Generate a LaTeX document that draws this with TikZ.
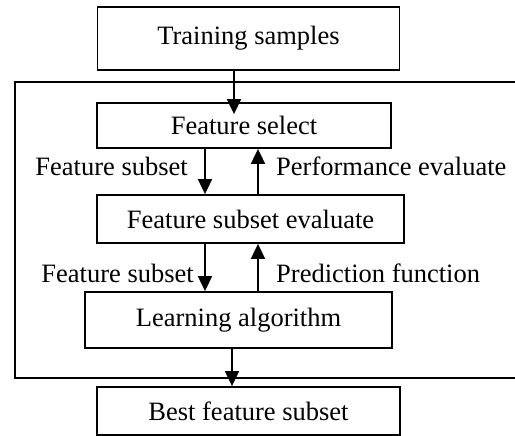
\documentclass[tikz,border=0pt]{standalone}
\usepackage{fontspec}
\setmainfont{Liberation Serif}
\usetikzlibrary{arrows.meta}
\begin{document}
\begin{tikzpicture}[x=1pt,y=-1pt,
  box/.style={draw,line width=1.8pt,rectangle,inner sep=0pt,font=\fontsize{26.5}{30}\selectfont},
  lbl/.style={inner sep=0pt,font=\fontsize{26.5}{30}\selectfont},
  arr/.style={line width=1.8pt,-{Triangle[length=15pt,width=14pt]}},
  frame/.style={line width=1.8pt}]
\useasboundingbox (0,0) rectangle (515,436);
\node[box,minimum width=302pt,minimum height=63pt] (train) at (248.5,38.5) {Training samples};
\node[box,minimum width=294pt,minimum height=45pt] (fsel) at (244,125.5) {Feature select};
\node[box,minimum width=307pt,minimum height=48pt] (feval) at (250.5,219) {Feature subset evaluate};
\node[box,minimum width=307pt,minimum height=56pt] (learn) at (238.5,320) {Learning algorithm};
\node[box,minimum width=303pt,minimum height=48pt] (best) at (248.5,411) {Best feature subset};
% outer frame
\coordinate (ftl) at (15,82);
\coordinate (fbl) at (15,378);
\coordinate (ftr) at (515,82);
\coordinate (fbr) at (515,378);
\draw[frame] (ftr) -- (ftl) -- (fbl) -- (fbr);
% arrow x positions
\coordinate (x1) at (234,0);
\coordinate (xd) at (205,0);
\coordinate (xu) at (258,0);
\coordinate (x2) at (232,0);
\draw[arr] (x1 |- train.south) -- ([yshift=-12pt]x1 |- fsel.north);
\draw[arr] (xd |- fsel.south) -- (xd |- feval.north);
\draw[arr] (xu |- feval.north) -- (xu |- fsel.south);
\draw[arr] (xd |- feval.south) -- (xd |- learn.north);
\draw[arr] (xu |- learn.north) -- (xu |- feval.south);
\draw[arr] (x2 |- learn.south) -- (x2 |- best.north);
% labels
\node[lbl,anchor=east] (l1) at (188,166) {Feature subset};
\node[lbl,anchor=west] (l2) at (276,166) {Performance evaluate};
\node[lbl,anchor=east] (l3) at (194,273) {Feature subset};
\node[lbl,anchor=west] (l4) at (276,273) {Prediction function};
\end{tikzpicture}
\end{document}
